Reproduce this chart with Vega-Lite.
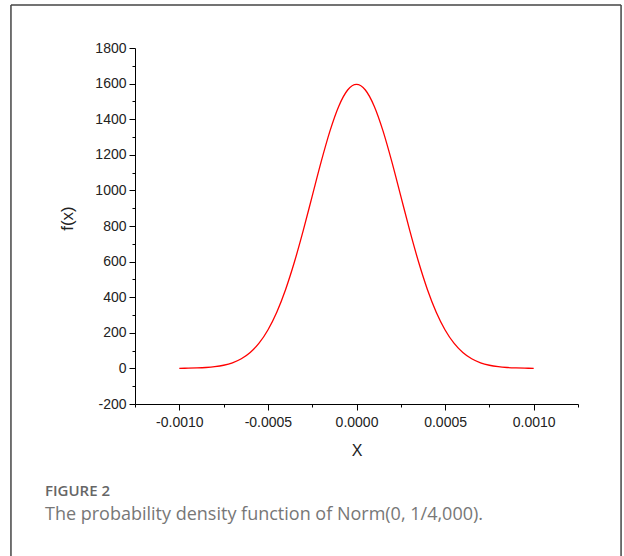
{
  "$schema": "https://vega.github.io/schema/vega-lite/v6.json",
  "autosize": "none",
  "padding": {"left": 135, "top": 48, "right": 46, "bottom": 152},
  "width": 443,
  "height": 356,
  "background": "#ffffff",
  "config": {"view": {"stroke": null}},
  "resolve": {"axis": {"x": "independent", "y": "independent"}},
  "title": {
    "text": "FIGURE 2",
    "subtitle": "The probability density function of Norm(0, 1/4,000).",
    "orient": "bottom",
    "anchor": "start",
    "frame": "group",
    "offset": -73,
    "dx": -90,
    "font": "Open Sans",
    "fontSize": 15,
    "fontWeight": 600,
    "color": "#666666",
    "subtitleFont": "Open Sans",
    "subtitleFontSize": 18,
    "subtitleColor": "#777777",
    "subtitlePadding": 7
  },
  "layer": [
    {
      "data": {"values": [
        {"x": -0.00100, "fx": 0.53},
        {"x": -0.00095, "fx": 1.17},
        {"x": -0.00090, "fx": 2.45},
        {"x": -0.00085, "fx": 4.93},
        {"x": -0.00080, "fx": 9.54},
        {"x": -0.00075, "fx": 17.73},
        {"x": -0.00070, "fx": 31.66},
        {"x": -0.00065, "fx": 54.33},
        {"x": -0.00060, "fx": 89.58},
        {"x": -0.00055, "fx": 141.90},
        {"x": -0.00050, "fx": 215.97},
        {"x": -0.00045, "fx": 315.80},
        {"x": -0.00040, "fx": 443.68},
        {"x": -0.00035, "fx": 598.91},
        {"x": -0.00030, "fx": 776.74},
        {"x": -0.00025, "fx": 967.88},
        {"x": -0.00020, "fx": 1158.77},
        {"x": -0.00015, "fx": 1332.90},
        {"x": -0.00010, "fx": 1473.08},
        {"x": -0.00005, "fx": 1564.17},
        {"x": 0.00000, "fx": 1595.77},
        {"x": 0.00005, "fx": 1564.17},
        {"x": 0.00010, "fx": 1473.08},
        {"x": 0.00015, "fx": 1332.90},
        {"x": 0.00020, "fx": 1158.77},
        {"x": 0.00025, "fx": 967.88},
        {"x": 0.00030, "fx": 776.74},
        {"x": 0.00035, "fx": 598.91},
        {"x": 0.00040, "fx": 443.68},
        {"x": 0.00045, "fx": 315.80},
        {"x": 0.00050, "fx": 215.97},
        {"x": 0.00055, "fx": 141.90},
        {"x": 0.00060, "fx": 89.58},
        {"x": 0.00065, "fx": 54.33},
        {"x": 0.00070, "fx": 31.66},
        {"x": 0.00075, "fx": 17.73},
        {"x": 0.00080, "fx": 9.54},
        {"x": 0.00085, "fx": 4.93},
        {"x": 0.00090, "fx": 2.45},
        {"x": 0.00095, "fx": 1.17},
        {"x": 0.00100, "fx": 0.53}
      ]},
      "mark": {"type": "line", "color": "#ff0000", "strokeWidth": 1.3, "interpolate": "monotone"},
      "encoding": {
        "x": {
          "field": "x", "type": "quantitative",
          "scale": {"domain": [-0.00125, 0.00125], "nice": false, "zero": false},
          "axis": {
            "title": "X",
            "orient": "bottom",
            "values": [-0.00125, -0.001, -0.00075, -0.0005, -0.00025, 0, 0.00025, 0.0005, 0.00075, 0.001, 0.00125],
            "format": ".4f",
            "labelExpr": "abs(datum.value*2000 - round(datum.value*2000)) < 0.01 ? replace(datum.label, '\u2212', '-') : ''",
            "tickSize": {"condition": {"test": "abs(datum.value*2000 - round(datum.value*2000)) < 0.01", "value": 6}, "value": 3},
            "grid": false,
            "domainColor": "#000000",
            "tickColor": "#000000",
            "labelFont": "Liberation Sans",
            "labelFontSize": 14,
            "labelColor": "#222222",
            "labelPadding": 5,
            "labelFlush": false,
            "labelOverlap": false,
            "titleFont": "Liberation Sans",
            "titleFontSize": 16,
            "titleFontWeight": "normal",
            "titleColor": "#222222",
            "titlePadding": 13
          }
        },
        "y": {
          "field": "fx", "type": "quantitative",
          "scale": {"domain": [-200, 1800], "nice": false, "zero": false},
          "axis": {
            "title": "f(x)",
            "orient": "left",
            "values": [-200, -100, 0, 100, 200, 300, 400, 500, 600, 700, 800, 900, 1000, 1100, 1200, 1300, 1400, 1500, 1600, 1700, 1800],
            "format": "d",
            "labelExpr": "datum.value % 200 === 0 ? replace(datum.label, '\u2212', '-') : ''",
            "tickSize": {"condition": {"test": "datum.value % 200 === 0", "value": 6}, "value": 3},
            "grid": false,
            "domainColor": "#000000",
            "tickColor": "#000000",
            "labelFont": "Liberation Sans",
            "labelFontSize": 14,
            "labelColor": "#222222",
            "labelPadding": 3,
            "labelFlush": false,
            "labelOverlap": false,
            "titleFont": "Liberation Sans",
            "titleFontSize": 17,
            "titleFontWeight": "normal",
            "titleColor": "#222222",
            "titlePadding": 18,
            "titleY": 170
          }
        }
      }
    },
    {
      "data": {"values": [{}]},
      "mark": {"type": "rule", "color": "#444444", "strokeWidth": 1.5, "clip": false},
      "encoding": {
        "x": {"datum": -0.00195, "axis": null},
        "y": {"datum": 2041.6, "axis": null},
        "x2": {"datum": 0.001493}
      }
    },
    {
      "data": {"values": [{}]},
      "mark": {"type": "rule", "color": "#444444", "strokeWidth": 1.5, "clip": false},
      "encoding": {
        "x": {"datum": -0.00195, "axis": null},
        "y": {"datum": 2041.6, "axis": null},
        "y2": {"datum": -1054}
      }
    },
    {
      "data": {"values": [{}]},
      "mark": {"type": "rule", "color": "#444444", "strokeWidth": 1.5, "clip": false},
      "encoding": {
        "x": {"datum": 0.001493, "axis": null},
        "y": {"datum": 2041.6, "axis": null},
        "y2": {"datum": -1054}
      }
    }
  ]
}
